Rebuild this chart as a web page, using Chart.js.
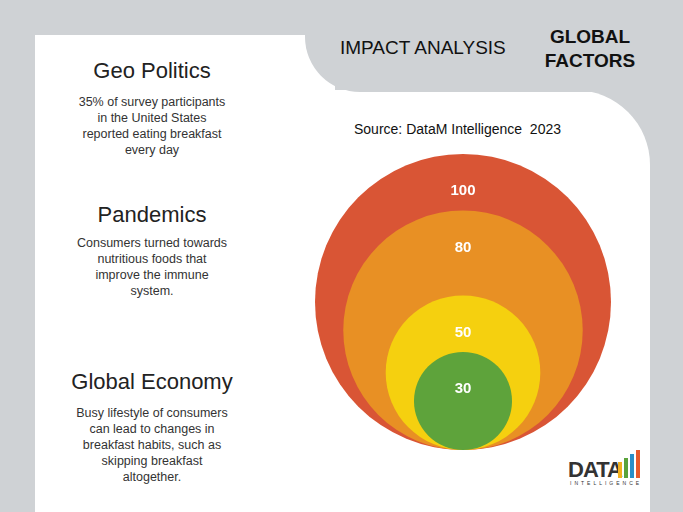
<!DOCTYPE html>
<html>
<head>
<meta charset="utf-8">
<script src="https://cdn.jsdelivr.net/npm/chart.js@4"></script>
<style>
  body { margin:0; width:683px; height:512px; background:#cfd2d5; position:relative; overflow:hidden; font-family:"Liberation Sans", Arial, sans-serif; }
  .w1 { position:absolute; left:35px; top:35px; width:300px; height:477px; background:#fff; }
  .w2 { position:absolute; left:305px; top:90px; width:345px; height:422px; background:#fff; border-top-right-radius:75px; }
  .tab { position:absolute; left:305px; top:0; width:378px; height:92px; background:#cfd2d5; border-bottom-left-radius:55px; }
  .t { position:absolute; text-align:center; color:#222; }
  .h { font-size:22px; }
  .p { font-size:12.5px; line-height:16px; color:#333; }
  #wrap { position:absolute; left:0; top:0; width:683px; height:512px; }
</style>
</head>
<body>
<div class="w1"></div><div class="w2"></div><div class="tab"></div>
<div class="t" style="left:340px;top:37px;font-size:19px;color:#111">IMPACT ANALYSIS</div>
<div class="t" style="left:535px;top:25px;font-size:19px;font-weight:bold;line-height:24px;color:#111;width:110px">GLOBAL<br>FACTORS</div>
<div class="t" style="left:354px;top:121px;font-size:14px;color:#111">Source: DataM Intelligence&nbsp; 2023</div>

<div class="t h" style="left:52px;width:200px;top:58px">Geo Politics</div>
<div class="t p" style="left:52px;width:200px;top:94px">35% of survey participants<br>in the United States<br>reported eating breakfast<br>every day</div>
<div class="t h" style="left:52px;width:200px;top:202px">Pandemics</div>
<div class="t p" style="left:52px;width:200px;top:235px">Consumers turned towards<br>nutritious foods that<br>improve the immune<br>system.</div>
<div class="t h" style="left:42px;width:220px;top:369px">Global Economy</div>
<div class="t p" style="left:52px;width:200px;top:405px">Busy lifestyle of consumers<br>can lead to changes in<br>breakfast habits, such as<br>skipping breakfast<br>altogether.</div>

<div class="t" style="left:568px;top:457px;font-size:22px;font-weight:900;color:#333;letter-spacing:-1px">DATA</div>
<div style="position:absolute;left:618px;top:462px;width:4px;height:16px;background:#f2b01e"></div>
<div style="position:absolute;left:624px;top:458px;width:4px;height:20px;background:#5aa33b"></div>
<div style="position:absolute;left:630px;top:454px;width:4px;height:24px;background:#2b8fc8"></div>
<div style="position:absolute;left:636px;top:450px;width:4px;height:28px;background:#e85a2c"></div>
<div class="t" style="left:570px;top:480px;font-size:5px;letter-spacing:3px;color:#333">INTELLIGENCE</div>

<div id="wrap"><canvas id="c"></canvas></div>
<script>
const categories = ['100', '80', '50', '30'];
const values = [100, 80, 50, 30];
const colors = ['#d95535', '#e89024', '#f5d00f', '#5ea33b'];

// pixel radius from value, circles share one bottom point
const radius = v => 6.6 + v * 1.414;
const baseY = 62, centerX = 463;

new Chart(document.getElementById('c'), {
  type: 'bubble',
  data: {
    datasets: values.map((v, i) => ({
      label: categories[i],
      data: [{ x: centerX, y: baseY + radius(v), r: radius(v) }],
      backgroundColor: colors[i],
      borderWidth: 0,
      hoverRadius: 0,
      order: values.length - i,
      clip: false
    }))
  },
  options: {
    responsive: true,
    maintainAspectRatio: false,
    animation: false,
    layout: { padding: 0, autoPadding: false },
    scales: {
      x: { type: 'linear', display: false, min: 0, max: 683, offset: false },
      y: { type: 'linear', display: false, min: 0, max: 512, offset: false }
    },
    plugins: { legend: { display: false }, tooltip: { enabled: false } }
  },
  plugins: [{
    id: 'labels',
    afterDatasetsDraw(chart) {
      const ctx = chart.ctx;
      ctx.save();
      ctx.fillStyle = '#fff';
      ctx.font = 'bold 15px "Liberation Sans", Arial';
      ctx.textAlign = 'center';
      ctx.textBaseline = 'middle';
      chart.data.datasets.forEach((ds, i) => {
        const el = chart.getDatasetMeta(i).data[0];
        ctx.fillText(categories[i], el.x, el.y - ds.data[0].r + 37);
      });
      ctx.restore();
    }
  }]
});
</script>
</body>
</html>
